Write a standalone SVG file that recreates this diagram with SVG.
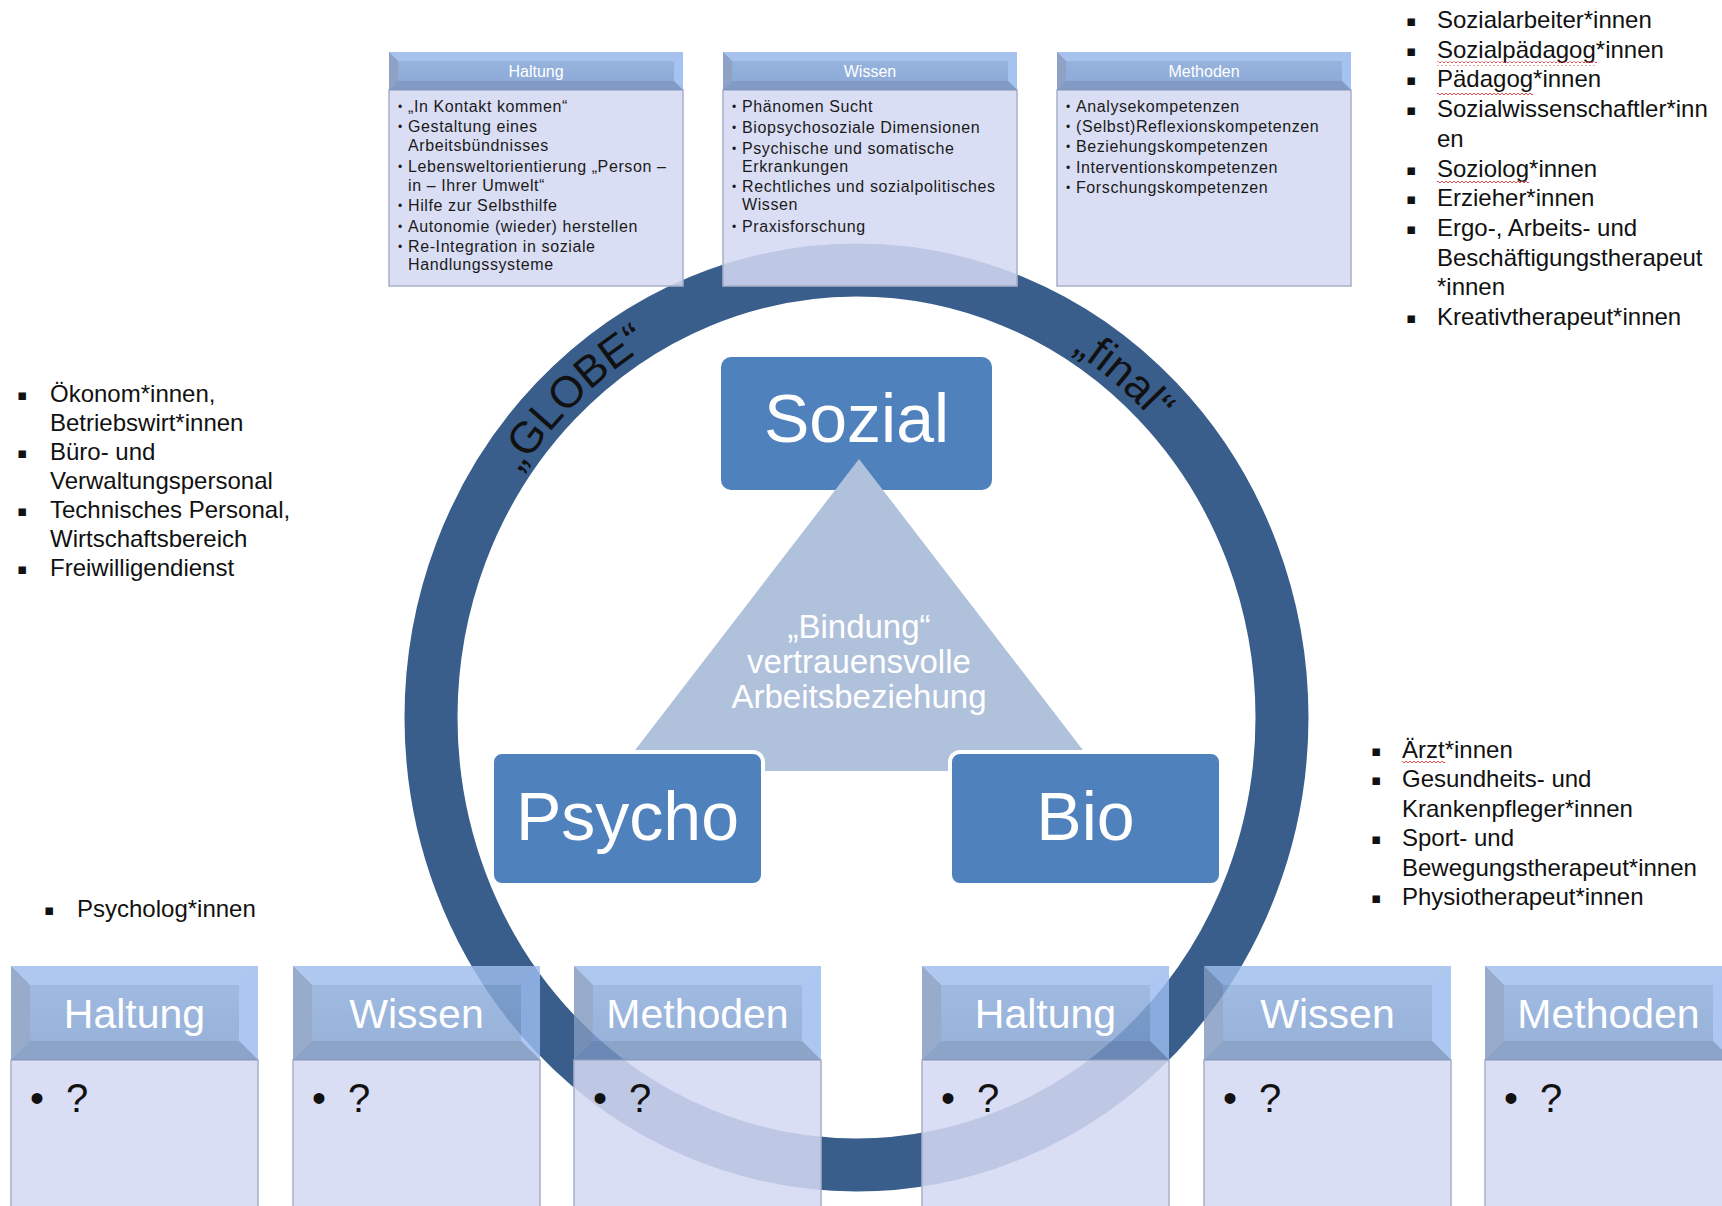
<svg xmlns="http://www.w3.org/2000/svg" xmlns:xlink="http://www.w3.org/1999/xlink" width="1722" height="1206" viewBox="0 0 1722 1206">
<style>
  text { font-family: "Liberation Sans", Arial, "DejaVu Sans", sans-serif; }
  .hT { font-size: 16px; fill: #ffffff; text-anchor: middle; }
  .bT { font-size: 16px; letter-spacing: 0.6px; fill: #1a1a1a; }
  .bu { font-size: 12px; fill: #1a1a1a; }
  .hB { font-size: 41px; fill: #ffffff; text-anchor: middle; }
  .q { font-size: 40px; fill: #111111; }
  .big { font-size: 68px; fill: #ffffff; text-anchor: middle; }
  .tri { font-size: 33px; fill: #ffffff; text-anchor: middle; }
  .ring { font-size: 44px; fill: #111111; text-anchor: middle; }
  .lst { font-size: 24px; fill: #111111; }
  .sqb { font-size: 15px; fill: #111111; font-family: "DejaVu Sans", sans-serif; }
  .body { fill: #D4D8F2; fill-opacity: 0.86; stroke: #A9AFC8; stroke-width: 1.5; }
  .node { fill: #4F81BD; }
</style>
<defs>
  <linearGradient id="hg" x1="0" y1="0" x2="0" y2="1">
    <stop offset="0" stop-color="#8EAFDE"/>
    <stop offset="1" stop-color="#7F9FCF"/>
  </linearGradient>
  <g id="th">
    <rect width="294" height="38" fill="url(#hg)"/>
    <polygon points="0,0 294,0 285,9 9,9" fill="#9EBDEC"/>
    <polygon points="0,0 9,9 9,29 0,38" fill="#8399C0"/>
    <polygon points="294,0 294,38 285,29 285,9" fill="#9BBDF0"/>
    <polygon points="0,38 9,29 285,29 294,38" fill="#7591BE"/>
  </g>
  <g id="bh">
    <rect width="247" height="94" fill="url(#hg)"/>
    <polygon points="0,0 247,0 228,19 19,19" fill="#9EBDEC"/>
    <polygon points="0,0 19,19 19,75 0,94" fill="#8399C0"/>
    <polygon points="247,0 247,94 228,75 228,19" fill="#9BBDF0"/>
    <polygon points="0,94 19,75 228,75 247,94" fill="#7591BE"/>
  </g>
  <pattern id="sq" width="4" height="4" patternUnits="userSpaceOnUse">
    <path d="M0,3 L2,1 L4,3" fill="none" stroke="#E03C3C" stroke-width="0.9"/>
  </pattern>
  <path id="arc" d="M 447.5,717.5 A 409 431 0 0 1 1265.5,717.5"/>
</defs>

<rect width="1722" height="1206" fill="#ffffff"/>

<g id="ring">
  <ellipse cx="856.5" cy="717.5" rx="425.5" ry="447.5" fill="none" stroke="#395E8C" stroke-width="53"/>
  <text class="ring"><textPath href="#arc" startOffset="26.5%">„GLOBE“</textPath></text>
  <text class="ring"><textPath href="#arc" startOffset="71.5%">„final“</textPath></text>
</g>

<g id="connectors"></g>

<g id="node-sozial">
  <rect class="node" x="721" y="357" width="271" height="133" rx="10"/>
  <text class="big" x="856.5" y="442">Sozial</text>
</g>

<g id="node-bindung">
  <polygon points="859,459 1099,771 619,771" fill="#B0C1DC"/>
  <text class="tri" x="859" y="638">„Bindung“</text>
  <text class="tri" x="859" y="673">vertrauensvolle</text>
  <text class="tri" x="859" y="708">Arbeitsbeziehung</text>
</g>

<g id="node-psycho">
  <rect class="node" x="492" y="752" width="271" height="133" rx="10" stroke="#ffffff" stroke-width="4"/>
  <text class="big" x="627.5" y="840">Psycho</text>
</g>

<g id="node-bio">
  <rect class="node" x="950" y="752" width="271" height="133" rx="10" stroke="#ffffff" stroke-width="4"/>
  <text class="big" x="1085.5" y="840">Bio</text>
</g>

<g id="top-haltung">
  <rect class="body" x="389" y="90" width="294" height="196"/>
  <use href="#th" x="389" y="52" opacity="0.9"/>
  <text class="hT" x="536" y="77">Haltung</text>
  <text class="bu" x="398" y="111">•</text><text class="bT" x="408" y="112">„In Kontakt kommen“</text>
  <text class="bu" x="398" y="131">•</text><text class="bT" x="408" y="132">Gestaltung eines</text>
  <text class="bT" x="408" y="151">Arbeitsbündnisses</text>
  <text class="bu" x="398" y="171">•</text><text class="bT" x="408" y="172">Lebensweltorientierung „Person –</text>
  <text class="bT" x="408" y="191">in – Ihrer Umwelt“</text>
  <text class="bu" x="398" y="210">•</text><text class="bT" x="408" y="211">Hilfe zur Selbsthilfe</text>
  <text class="bu" x="398" y="231">•</text><text class="bT" x="408" y="232">Autonomie (wieder) herstellen</text>
  <text class="bu" x="398" y="251">•</text><text class="bT" x="408" y="252">Re-Integration in soziale</text>
  <text class="bT" x="408" y="270">Handlungssysteme</text>
</g>

<g id="top-wissen">
  <rect class="body" x="723" y="90" width="294" height="196"/>
  <use href="#th" x="723" y="52" opacity="0.9"/>
  <text class="hT" x="870" y="77">Wissen</text>
  <text class="bu" x="732" y="111">•</text><text class="bT" x="742" y="112">Phänomen Sucht</text>
  <text class="bu" x="732" y="132">•</text><text class="bT" x="742" y="133">Biopsychosoziale Dimensionen</text>
  <text class="bu" x="732" y="153">•</text><text class="bT" x="742" y="154">Psychische und somatische</text>
  <text class="bT" x="742" y="172">Erkrankungen</text>
  <text class="bu" x="732" y="191">•</text><text class="bT" x="742" y="192">Rechtliches und sozialpolitisches</text>
  <text class="bT" x="742" y="210">Wissen</text>
  <text class="bu" x="732" y="231">•</text><text class="bT" x="742" y="232">Praxisforschung</text>
</g>

<g id="top-methoden">
  <rect class="body" x="1057" y="90" width="294" height="196"/>
  <use href="#th" x="1057" y="52" opacity="0.9"/>
  <text class="hT" x="1204" y="77">Methoden</text>
  <text class="bu" x="1066" y="111">•</text><text class="bT" x="1076" y="112">Analysekompetenzen</text>
  <text class="bu" x="1066" y="131">•</text><text class="bT" x="1076" y="132">(Selbst)Reflexionskompetenzen</text>
  <text class="bu" x="1066" y="151">•</text><text class="bT" x="1076" y="152">Beziehungskompetenzen</text>
  <text class="bu" x="1066" y="172">•</text><text class="bT" x="1076" y="173">Interventionskompetenzen</text>
  <text class="bu" x="1066" y="192">•</text><text class="bT" x="1076" y="193">Forschungskompetenzen</text>
</g>

<g id="bottom-psycho-haltung">
  <rect class="body" x="11" y="1060" width="247" height="150"/>
  <use href="#bh" x="11" y="966" opacity="0.82"/>
  <text class="hB" x="134.5" y="1028">Haltung</text>
  <text class="q" x="30" y="1112">•</text><text class="q" x="66" y="1112">?</text>
</g>
<g id="bottom-psycho-wissen">
  <rect class="body" x="293" y="1060" width="247" height="150"/>
  <use href="#bh" x="293" y="966" opacity="0.82"/>
  <text class="hB" x="416.5" y="1028">Wissen</text>
  <text class="q" x="312" y="1112">•</text><text class="q" x="348" y="1112">?</text>
</g>
<g id="bottom-psycho-methoden">
  <rect class="body" x="574" y="1060" width="247" height="150"/>
  <use href="#bh" x="574" y="966" opacity="0.82"/>
  <text class="hB" x="697.5" y="1028">Methoden</text>
  <text class="q" x="593" y="1112">•</text><text class="q" x="629" y="1112">?</text>
</g>
<g id="bottom-bio-haltung">
  <rect class="body" x="922" y="1060" width="247" height="150"/>
  <use href="#bh" x="922" y="966" opacity="0.82"/>
  <text class="hB" x="1045.5" y="1028">Haltung</text>
  <text class="q" x="941" y="1112">•</text><text class="q" x="977" y="1112">?</text>
</g>
<g id="bottom-bio-wissen">
  <rect class="body" x="1204" y="1060" width="247" height="150"/>
  <use href="#bh" x="1204" y="966" opacity="0.82"/>
  <text class="hB" x="1327.5" y="1028">Wissen</text>
  <text class="q" x="1223" y="1112">•</text><text class="q" x="1259" y="1112">?</text>
</g>
<g id="bottom-bio-methoden">
  <rect class="body" x="1485" y="1060" width="247" height="150"/>
  <use href="#bh" x="1485" y="966" opacity="0.82"/>
  <text class="hB" x="1608.5" y="1028">Methoden</text>
  <text class="q" x="1504" y="1112">•</text><text class="q" x="1540" y="1112">?</text>
</g>

<g id="list-sozial">
  <text class="sqb" x="1406" y="26">▪</text><text class="lst" x="1437" y="28">Sozialarbeiter*innen</text>
  <text class="sqb" x="1406" y="55.7">▪</text><text class="lst" x="1437" y="57.7">Sozialpädagog*innen</text>
  <text class="sqb" x="1406" y="85.4">▪</text><text class="lst" x="1437" y="87.4">Pädagog*innen</text>
  <text class="sqb" x="1406" y="115.1">▪</text><text class="lst" x="1437" y="117.1">Sozialwissenschaftler*inn</text>
  <text class="lst" x="1437" y="146.8">en</text>
  <text class="sqb" x="1406" y="174.5">▪</text><text class="lst" x="1437" y="176.5">Soziolog*innen</text>
  <text class="sqb" x="1406" y="204.2">▪</text><text class="lst" x="1437" y="206.2">Erzieher*innen</text>
  <text class="sqb" x="1406" y="233.9">▪</text><text class="lst" x="1437" y="235.9">Ergo-, Arbeits- und</text>
  <text class="lst" x="1437" y="265.6">Beschäftigungstherapeut</text>
  <text class="lst" x="1437" y="295.3">*innen</text>
  <text class="sqb" x="1406" y="323">▪</text><text class="lst" x="1437" y="325">Kreativtherapeut*innen</text>
  <rect x="1437" y="61.5" width="160" height="4" fill="url(#sq)"/>
  <rect x="1437" y="91.2" width="96" height="4" fill="url(#sq)"/>
  <rect x="1437" y="180.3" width="92" height="4" fill="url(#sq)"/>
</g>

<g id="list-global">
  <text class="sqb" x="17" y="399.5">▪</text><text class="lst" x="50" y="401.5">Ökonom*innen,</text>
  <text class="lst" x="50" y="430.5">Betriebswirt*innen</text>
  <text class="sqb" x="17" y="457.5">▪</text><text class="lst" x="50" y="459.5">Büro- und</text>
  <text class="lst" x="50" y="488.5">Verwaltungspersonal</text>
  <text class="sqb" x="17" y="515.5">▪</text><text class="lst" x="50" y="517.5">Technisches Personal,</text>
  <text class="lst" x="50" y="546.5">Wirtschaftsbereich</text>
  <text class="sqb" x="17" y="573.5">▪</text><text class="lst" x="50" y="575.5">Freiwilligendienst</text>
</g>

<g id="list-bio">
  <text class="sqb" x="1371" y="755.5">▪</text><text class="lst" x="1402" y="757.5">Ärzt*innen</text>
  <text class="sqb" x="1371" y="785">▪</text><text class="lst" x="1402" y="787">Gesundheits- und</text>
  <text class="lst" x="1402" y="816.6">Krankenpfleger*innen</text>
  <text class="sqb" x="1371" y="844.2">▪</text><text class="lst" x="1402" y="846.2">Sport- und</text>
  <text class="lst" x="1402" y="875.8">Bewegungstherapeut*innen</text>
  <text class="sqb" x="1371" y="903.4">▪</text><text class="lst" x="1402" y="905.4">Physiotherapeut*innen</text>
  <rect x="1402" y="761" width="43" height="4" fill="url(#sq)"/>
</g>

<g id="list-psycho">
  <text class="sqb" x="44" y="915">▪</text><text class="lst" x="77" y="917">Psycholog*innen</text>
</g>
</svg>
